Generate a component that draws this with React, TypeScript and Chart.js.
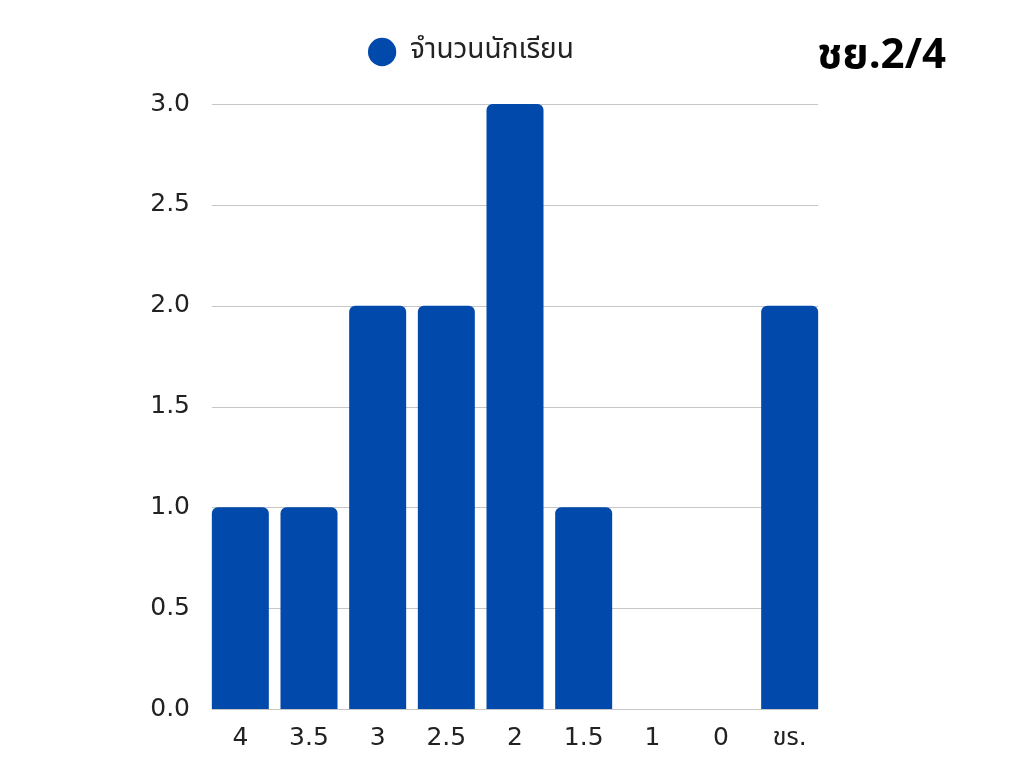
import React, { useEffect, useRef } from "react";
import { Chart, registerables } from "chart.js";

Chart.register(...registerables);

const categories = ["4", "3.5", "3", "2.5", "2", "1.5", "1", "0", "ขร."];
const studentCounts = [1, 1, 2, 2, 3, 1, 0, 0, 2];
const seriesLabel = "จำนวนนักเรียน";
const chartTitle = "ชย.2/4";
const yTicks = [0, 0.5, 1, 1.5, 2, 2.5, 3];

const FONT = '"DejaVu Sans", "Noto Sans Thai", "Noto Sans", sans-serif';
const LEGEND_FONT = '"Noto Sans Thai", "Noto Sans", sans-serif';
const BAR_COLOR = "#0249AC";

export default function App() {
  const ref = useRef<HTMLCanvasElement | null>(null);

  useEffect(() => {
    if (!ref.current) return;

    const gridPlugin = {
      id: "customGrid",
      beforeInit(chart: any) {
        const legend = chart.legend;
        if (legend) {
          const orig = legend.fit;
          legend.fit = function () {
            orig.call(this);
            this.height += 28;
          };
        }
      },
      beforeDatasetsDraw(chart: any) {
        const meta = chart.getDatasetMeta(0);
        const bars = meta.data;
        if (!bars.length) return;
        const first = bars[0];
        const last = bars[bars.length - 1];
        const x0 = first.x - first.width / 2;
        const x1 = last.x + last.width / 2;
        const y = chart.scales.y;
        const ctx = chart.ctx;
        ctx.save();
        ctx.strokeStyle = "#c6c6c6";
        ctx.lineWidth = 1;
        yTicks.forEach((v) => {
          const py = Math.round(y.getPixelForValue(v)) + 0.5;
          ctx.beginPath();
          ctx.moveTo(x0, py);
          ctx.lineTo(x1, py);
          ctx.stroke();
        });
        ctx.restore();
      },
      afterDraw(chart: any) {
        const ctx = chart.ctx;
        ctx.save();
        ctx.fillStyle = "#000";
        ctx.font = `bold 42px ${LEGEND_FONT}`;
        ctx.textAlign = "right";
        ctx.textBaseline = "alphabetic";
        ctx.fillText(chartTitle, 938, 60);
        ctx.restore();
      },
    };

    const chart = new Chart(ref.current, {
      type: "bar",
      data: {
        labels: categories,
        datasets: [
          {
            label: seriesLabel,
            data: studentCounts,
            backgroundColor: BAR_COLOR,
            borderRadius: { topLeft: 6, topRight: 6, bottomLeft: 0, bottomRight: 0 },
            borderSkipped: "bottom",
            barPercentage: 0.83,
            categoryPercentage: 1,
          },
        ],
      },
      options: {
        responsive: false,
        animation: false,
        layout: { padding: { left: 110, right: 188, top: 0, bottom: 0 } },
        plugins: {
          legend: {
            display: true,
            position: "top",
            align: "center",
            labels: {
              usePointStyle: true,
              pointStyle: "circle",
              boxHeight: 20,
              boxWidth: 28,
              padding: 30,
              color: "#222",
              font: { family: LEGEND_FONT, size: 28 },
            },
          },
          tooltip: { enabled: false },
          title: { display: false },
        },
        scales: {
          x: {
            grid: { display: false, drawTicks: false },
            border: { display: false },
            ticks: {
              color: "#222",
              padding: 14,
              font: { family: FONT, size: 25 },
            },
            afterFit(s: any) {
              s.height = 49;
            },
          },
          y: {
            min: 0,
            max: 3,
            grid: { display: false, drawTicks: false },
            border: { display: false },
            ticks: {
              stepSize: 0.5,
              color: "#222",
              padding: 16,
              font: { family: FONT, size: 25 },
              callback: (v: any) => Number(v).toFixed(1),
            },
            afterFit(s: any) {
              s.width = 88;
            },
          },
        },
      },
      plugins: [gridPlugin],
    });

    return () => chart.destroy();
  }, []);

  return (
    <div style={{ width: 1004, height: 750 }}>
      <canvas ref={ref} width={1004} height={750} style={{ display: "block" }} />
    </div>
  );
}
